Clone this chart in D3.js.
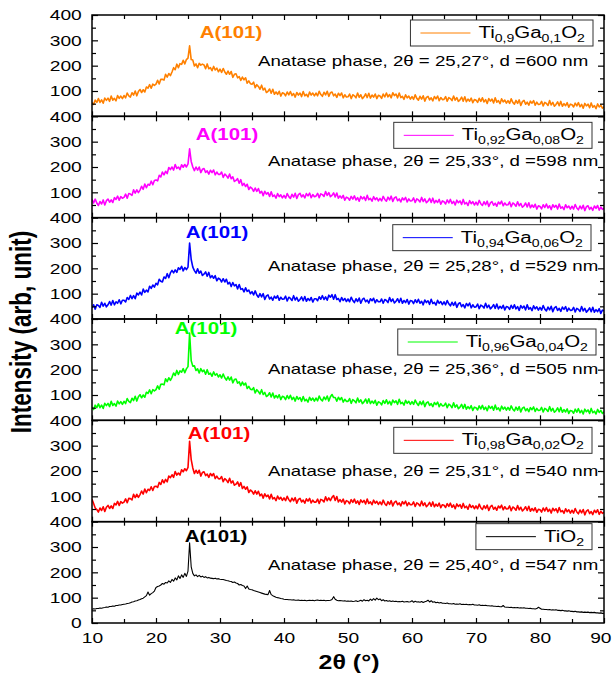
<!DOCTYPE html>
<html>
<head>
<meta charset="utf-8">
<script src="https://cdn.jsdelivr.net/npm/d3@7"></script>
<style>
  body { margin: 0; background: #fff; }
  svg { display: block; font-family: "Liberation Sans", Arial, sans-serif; }
</style>
</head>
<body>
<svg id="chart" width="612" height="676"></svg>
<script>
// 2theta sampling of the scans: 10 to 90 deg, every 0.25 deg
var twoTheta = d3.range(0, 321).map(function(i) { return 10 + i * 0.25; });

// Intensities (arb. unit), one row = 5 degrees
var ti090 = [
  55,47,64,55,70,55,65,52,72,63,72,59,80,64,71,61,82,71,80,70,
  82,73,92,81,76,93,84,100,81,98,106,94,105,96,116,111,125,111,127,122,
  127,142,128,146,146,143,166,155,169,161,175,192,184,206,192,208,205,221,207,224,
  230,278,224,222,199,207,192,209,202,206,203,188,207,188,192,180,197,183,190,176,
  186,173,189,175,166,179,166,177,154,166,168,152,157,142,155,144,152,131,140,129,
  127,135,113,125,118,107,123,104,111,94,99,108,91,107,87,96,87,99,80,93,
  90,81,96,85,98,82,90,76,94,84,92,78,98,81,87,77,96,84,92,81,
  92,81,99,86,79,95,85,99,79,93,96,81,88,75,91,82,92,73,85,76,
  77,88,70,85,81,73,92,75,85,70,77,89,74,91,72,84,76,88,70,83,
  80,71,88,77,92,77,86,73,93,82,88,73,92,74,79,67,85,73,80,68,
  78,67,85,71,64,79,68,81,60,75,79,65,73,61,78,69,80,62,74,66,
  67,78,60,74,70,62,80,64,74,59,65,76,60,77,58,68,60,72,54,66,
  64,55,71,59,73,57,66,51,70,60,68,53,73,56,62,50,69,57,64,52,
  62,51,69,55,48,63,51,65,43,58,63,48,56,44,60,52,62,44,56,47,
  48,59,41,55,51,43,62,45,55,40,47,57,42,59,40,50,42,54,36,48,
  46,37,52,41,54,38,47,32,51,41,48,34,53,36,42,30,49,37,44,32,
  38];

var ti092 = [
  72,58,73,58,48,64,54,70,50,67,73,61,70,60,79,72,85,69,83,77,
  80,93,77,95,93,88,110,97,110,99,109,124,112,133,118,132,128,144,130,147,
  149,145,167,161,180,169,183,174,198,190,200,188,210,194,200,190,209,199,210,200,
  212,272,222,200,186,200,188,200,178,191,194,179,185,172,187,178,188,169,180,171,
  171,180,159,172,166,156,172,154,161,143,147,154,136,150,127,135,123,132,111,121,
  116,104,117,104,115,97,104,87,104,93,99,84,102,84,89,77,95,83,90,78,
  88,77,95,83,76,92,81,96,76,91,96,82,90,78,95,86,97,79,91,83,
  85,96,79,94,91,84,103,88,99,83,88,98,82,97,77,86,77,88,69,81,
  78,69,84,73,86,70,79,65,84,74,82,68,88,71,76,65,83,71,78,66,
  76,66,84,72,65,81,70,85,64,78,82,67,74,62,78,70,80,62,74,66,
  67,78,60,74,70,62,80,64,74,59,65,76,60,77,58,68,60,72,53,66,
  63,54,70,58,72,56,64,50,69,59,66,52,72,54,60,48,67,55,63,50,
  61,50,68,55,48,63,51,65,44,58,63,49,57,45,62,54,65,47,58,50,
  51,62,43,58,53,45,63,47,56,41,47,58,42,59,39,50,41,53,34,47,
  44,35,51,40,54,38,47,32,51,41,49,34,54,37,43,32,51,39,46,34,
  45,34,52,38,31,46,35,49,28,43,47,33,41,29,46,37,48,30,42,33,
  37];

var ti094 = [
  44,56,39,56,53,46,66,51,62,48,56,69,55,73,56,68,62,76,60,74,
  74,67,85,77,93,80,92,80,102,95,106,95,118,105,114,107,129,121,134,126,
  141,135,157,149,146,166,160,179,163,182,192,182,194,184,202,196,208,190,203,195,
  205,300,235,205,191,181,198,181,189,172,177,186,169,184,163,171,161,171,151,161,
  157,146,159,146,157,138,145,128,144,131,136,119,136,117,120,107,123,109,114,100,
  108,95,111,95,86,100,87,100,77,91,95,79,86,74,90,82,92,74,86,78,
  79,90,71,86,81,73,92,75,85,70,77,87,72,89,70,81,73,85,67,80,
  80,72,88,78,92,77,87,74,94,86,96,78,96,77,81,68,85,73,81,69,
  79,68,86,73,65,80,69,83,62,77,82,68,75,63,80,72,82,64,76,68,
  68,79,62,77,73,65,85,69,79,63,70,80,65,82,62,73,65,77,59,73,
  71,61,76,65,78,62,70,56,75,65,72,58,78,61,66,55,74,62,69,57,
  68,56,73,60,52,66,54,67,46,60,64,49,57,44,61,52,63,44,56,47,
  48,59,41,55,51,43,62,45,55,40,47,57,42,59,40,50,42,54,36,49,
  47,38,54,42,56,40,49,34,53,43,51,36,56,39,45,33,52,40,48,35,
  46,35,53,39,32,47,36,50,29,44,49,34,42,30,47,38,49,31,43,34,
  35,46,28,42,38,30,49,32,42,27,34,44,29,46,27,37,29,41,22,35,
  32];

var ti096 = [
  51,43,60,50,65,50,60,47,67,58,67,54,75,59,66,56,76,65,74,63,
  75,66,86,75,70,87,78,95,76,93,101,89,100,91,111,106,120,105,121,116,
  121,136,123,142,143,140,164,153,168,158,170,187,177,197,181,195,190,204,188,203,
  212,345,235,214,215,197,203,187,204,192,198,182,200,182,186,174,191,178,184,171,
  180,167,183,168,159,172,159,171,148,161,163,147,152,137,151,139,147,126,134,123,
  121,129,108,121,114,104,121,102,110,94,99,109,92,108,88,98,89,101,82,95,
  92,82,98,86,99,82,91,76,94,83,90,75,94,77,83,72,91,79,88,76,
  88,77,96,83,77,92,82,96,76,93,102,90,90,76,91,81,90,72,83,75,
  75,86,67,82,77,69,88,72,81,66,73,84,68,85,66,76,67,79,60,73,
  70,61,78,67,81,65,75,61,80,70,77,63,83,66,71,60,79,67,75,63,
  74,63,80,67,59,74,62,76,54,69,73,59,66,54,70,62,72,54,66,57,
  58,68,50,64,59,50,69,52,61,46,52,63,47,63,44,54,46,58,39,52,
  50,41,57,45,59,43,52,38,57,47,55,40,60,43,49,37,56,44,52,40,
  51,40,57,44,37,52,40,54,33,48,52,38,46,34,50,42,53,35,47,39,
  40,51,33,47,43,35,54,37,47,32,38,49,34,51,32,42,33,45,27,39,
  37,28,44,32,46,30,39,25,44,34,41,27,47,30,36,25,43,31,39,27,
  34];

var ti098 = [
  88,72,54,48,38,54,44,59,40,57,64,52,62,52,72,66,80,64,79,73,
  77,90,75,92,91,86,108,95,108,96,107,121,109,129,114,128,123,138,123,139,
  140,135,155,147,165,153,167,157,180,174,185,175,198,184,192,184,205,197,209,201,
  214,317,245,212,190,203,191,203,180,194,197,182,188,175,190,181,190,170,180,170,
  169,178,158,170,164,154,171,153,161,144,148,157,140,154,131,139,128,137,115,125,
  120,109,122,109,120,102,109,93,110,99,105,90,108,90,95,83,101,89,96,84,
  94,83,100,87,79,93,82,95,73,88,92,78,85,73,90,81,92,74,85,77,
  77,89,72,88,85,78,98,83,94,83,96,103,84,99,78,87,77,89,70,83,
  80,71,87,76,89,73,82,68,86,76,84,70,89,72,78,67,85,73,80,68,
  78,67,85,71,64,79,68,83,62,76,81,67,74,62,79,70,81,63,75,67,
  67,78,60,74,70,62,81,64,74,59,66,76,61,78,59,69,61,73,55,67,
  65,56,71,60,73,57,66,51,70,60,67,53,72,55,61,49,68,56,63,51,
  62,51,69,55,48,63,52,65,44,59,64,49,57,45,62,54,65,47,59,50,
  51,62,43,58,53,45,64,47,57,42,49,59,44,61,41,52,43,55,37,49,
  47,38,54,42,56,40,49,34,53,43,51,36,56,39,44,33,51,39,47,34,
  45,34,52,38,31,46,35,48,27,42,47,32,40,28,45,36,47,29,41,33,
  37];

var tio2 = [
  54,56,55,57,57,59,58,60,61,63,62,65,65,67,66,69,69,71,71,73,
  74,75,77,78,80,83,84,87,88,91,93,96,98,103,108,122,110,116,120,126,
  140,144,146,150,156,153,160,158,166,160,172,165,178,170,186,176,190,180,196,184,
  205,317,222,196,186,190,183,188,182,185,180,183,178,180,177,176,175,177,174,175,
  173,172,172,170,168,167,165,164,160,162,158,156,150,152,148,146,136,146,134,132,
  131,128,126,124,122,120,118,116,114,113,112,128,112,108,105,102,100,99,97,96,
  94,93,93,92,92,91,92,90,90,91,89,90,89,90,88,89,90,89,90,88,
  90,91,89,90,89,90,88,89,89,90,93,104,94,90,88,89,88,87,88,86,
  87,86,87,85,86,88,85,87,90,86,92,88,90,87,94,89,96,90,98,92,
  95,88,92,87,89,86,88,85,87,85,86,84,85,84,86,83,84,85,83,84,
  88,82,86,83,84,82,85,81,84,86,90,83,88,82,84,80,82,79,81,78,
  78,77,79,76,76,75,77,74,75,74,76,73,74,73,74,72,73,72,74,71,
  71,70,72,69,70,69,70,68,68,67,68,66,66,65,66,64,64,69,63,62,
  62,61,62,60,61,60,61,59,60,59,60,58,58,57,58,56,56,55,57,62,
  58,54,54,53,53,52,53,51,52,51,52,50,50,49,50,48,48,47,48,46,
  46,45,46,44,44,43,44,42,43,42,43,41,42,41,42,40,40,39,40,38,
  38];

// Panels from top to bottom
var seriesValues = [ti090, ti092, ti094, ti096, ti098, tio2];
var seriesColors = ["#ff8000", "#ff00ff", "#0000ff", "#00ff00", "#ff0000", "#000000"];
// legend formula: even items normal, odd items subscript
var legendParts = [
  ["Ti", "0,9", "Ga", "0,1", "O", "2"],
  ["Ti", "0,92", "Ga", "0,08", "O", "2"],
  ["Ti", "0,94", "Ga", "0,06", "O", "2"],
  ["Ti", "0,96", "Ga", "0,04", "O", "2"],
  ["Ti", "0,98", "Ga", "0,02", "O", "2"],
  ["TiO", "2"]
];
var peakPositions = ["25,27", "25,33", "25,28", "25,36", "25,31", "25,40"];
var grainSizes = ["600", "598", "529", "505", "540", "547"];
var yTicks = [100, 200, 300, 400];
var xTicks = [10, 20, 30, 40, 50, 60, 70, 80, 90];

// Placement of the texts inside each panel (offsets from panel top)
var legendPos = [[593, 5], [592, 6], [591, 7], [596, 10], [592, 7], [592, 2]];
var peakLabelPos = [[231, 23], [227, 24], [217, 20], [206, 15], [219, 19], [216, 20]];
var notePos = [[258, 51], [268, 50], [268, 53], [268, 55], [268, 56], [268, 48]];

var S = 1.28;   // lettering in the figure is drawn wide
var margin = {top: 15, right: 8, bottom: 53, left: 92};
var width = 612 - margin.left - margin.right,
    height = 676 - margin.top - margin.bottom,
    panelH = height / 6;

var svg = d3.select("#chart");

var x = d3.scaleLinear().domain([10, 90]).range([margin.left, margin.left + width]);
var y = d3.scaleLinear().domain([0, 400]).range([panelH, 0]);

function wide(sel, px, py) {
  return sel.attr("transform", "translate(" + px + "," + py + ") scale(" + S + ",1)");
}

function styleAxis(g) {
  g.select(".domain").remove();
  g.attr("font-size", 15).attr("font-family", "'Liberation Sans', Arial, sans-serif");
  g.selectAll("line").attr("stroke-width", 1.2);
  g.selectAll("text").attr("transform", "scale(" + S + ",1)");
}

var line = d3.line()
  .x(function(d, i) { return x(twoTheta[i]); })
  .y(function(d) { return y(d); });

seriesValues.forEach(function(values, p) {
  var top = margin.top + p * panelH;
  var last = p === seriesValues.length - 1;
  var g = svg.append("g").attr("transform", "translate(0," + top + ")");

  g.append("clipPath").attr("id", "clip" + p)
    .append("rect").attr("x", margin.left).attr("y", 0).attr("width", width).attr("height", panelH);

  // curve (the doped samples are noisy, drawn as a thicker band)
  g.append("path")
    .datum(values)
    .attr("clip-path", "url(#clip" + p + ")")
    .attr("fill", "none")
    .attr("stroke", seriesColors[p])
    .attr("stroke-width", last ? 1.1 : 1.6)
    .attr("stroke-linejoin", "round")
    .attr("d", line);

  // left axis, labels + inward ticks
  g.append("g").attr("transform", "translate(" + margin.left + ",0)")
    .call(d3.axisLeft(y).tickValues(last ? [0].concat(yTicks) : yTicks).tickSize(-6).tickPadding(8))
    .call(styleAxis);
  g.append("g").attr("transform", "translate(" + margin.left + ",0)")
    .call(d3.axisLeft(y).tickValues([50, 150, 250, 350]).tickSize(-4).tickFormat(""))
    .call(styleAxis);
  // right axis
  g.append("g").attr("transform", "translate(" + (margin.left + width) + ",0)")
    .call(d3.axisRight(y).tickValues(yTicks).tickSize(-6).tickFormat(""))
    .call(styleAxis);
  g.append("g").attr("transform", "translate(" + (margin.left + width) + ",0)")
    .call(d3.axisRight(y).tickValues([50, 150, 250, 350]).tickSize(-4).tickFormat(""))
    .call(styleAxis);
  // top and bottom ticks
  g.append("g")
    .call(d3.axisTop(x).tickValues(xTicks).tickSize(-5).tickFormat(""))
    .call(styleAxis);
  g.append("g")
    .call(d3.axisTop(x).tickValues([15, 25, 35, 45, 55, 65, 75, 85]).tickSize(-4).tickFormat(""))
    .call(styleAxis);
  var bottomAxis = g.append("g").attr("transform", "translate(0," + panelH + ")")
    .call(d3.axisBottom(x).tickValues(xTicks).tickSize(-5).tickPadding(9)
      .tickFormat(last ? d3.format("d") : ""))
    .call(styleAxis);
  // keep the last label inside the page
  bottomAxis.selectAll(".tick text")
    .filter(function(d) { return d === 90; })
    .attr("text-anchor", "end").attr("x", 7 / S);
  g.append("g").attr("transform", "translate(0," + panelH + ")")
    .call(d3.axisBottom(x).tickValues([15, 25, 35, 45, 55, 65, 75, 85]).tickSize(-4).tickFormat(""))
    .call(styleAxis);

  // frame
  g.append("rect")
    .attr("x", margin.left).attr("y", 0)
    .attr("width", width).attr("height", panelH)
    .attr("fill", "none").attr("stroke", "#000").attr("stroke-width", 1.5);

  // peak label
  g.append("text")
    .attr("text-anchor", "middle")
    .attr("font-size", 16).attr("font-weight", "bold")
    .attr("fill", seriesColors[p])
    .call(wide, peakLabelPos[p][0], peakLabelPos[p][1])
    .text("A(101)");

  // phase note
  g.append("text")
    .attr("font-size", 14.6)
    .call(wide, notePos[p][0], notePos[p][1])
    .text("Anatase phase, 2\u03b8 = " + peakPositions[p] + "\u00b0, d =" + grainSizes[p] + " nm");

  // legend
  var legend = g.append("g");
  var box = legend.append("rect");
  var sample = legend.append("line");
  var label = legend.append("text").attr("font-size", 16);
  legendParts[p].forEach(function(part, k) {
    var sub = k % 2 === 1;
    label.append("tspan")
      .attr("font-size", sub ? 11 : 16)
      .attr("dy", sub ? 4 : (k > 0 ? -4 : 0))
      .text(part);
  });
  var w = label.node().getBBox().width * S;
  var right = legendPos[p][0], boxTop = legendPos[p][1];
  var tx = right - 8 - w;
  wide(label, tx, boxTop + 18);
  box.attr("x", tx - 68).attr("y", boxTop)
    .attr("width", w + 76).attr("height", 26)
    .attr("fill", "#fff").attr("stroke", "#333").attr("stroke-width", 1);
  sample.attr("x1", tx - 58).attr("x2", tx - 8)
    .attr("y1", boxTop + 13).attr("y2", boxTop + 13)
    .attr("stroke", seriesColors[p]).attr("stroke-width", 1);
});

// axis titles
svg.append("text")
  .attr("text-anchor", "middle")
  .attr("font-size", 19.5).attr("font-weight", "bold")
  .call(wide, 349, 669)
  .text("2\u03b8 (\u00b0)");

svg.append("text")
  .attr("text-anchor", "middle")
  .attr("font-size", 22.5).attr("font-weight", "bold")
  .attr("transform", "translate(31,332) scale(" + S + ",1) rotate(-90)")
  .text("Intensity (arb, unit)");
</script>
</body>
</html>
